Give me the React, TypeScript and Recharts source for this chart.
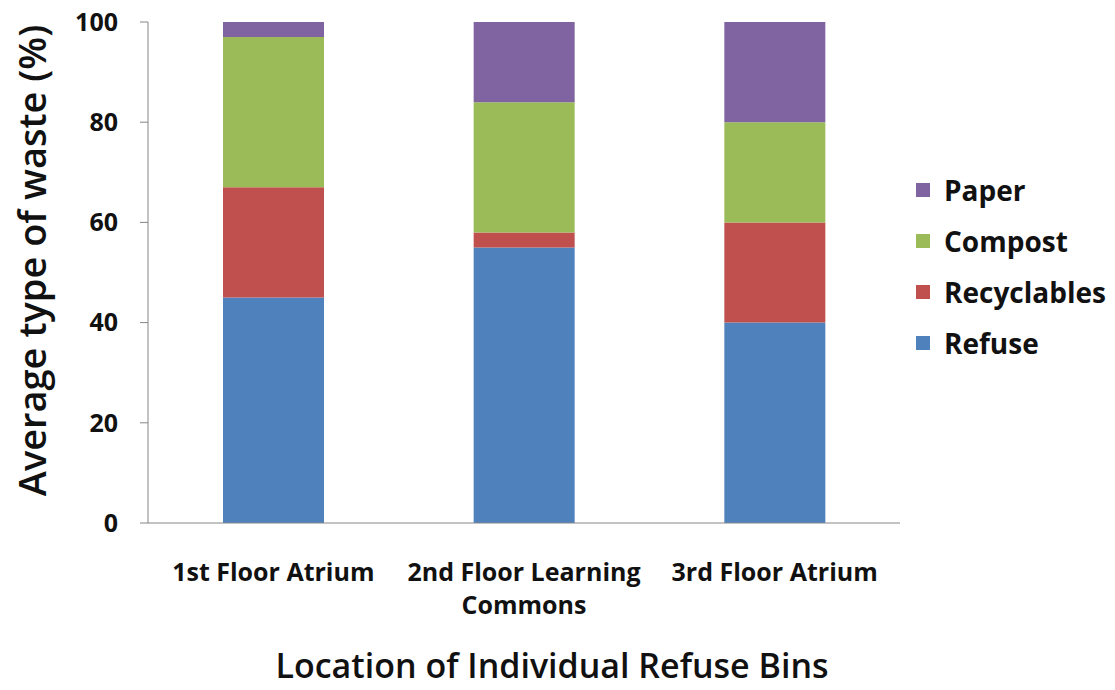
import { BarChart, Bar, XAxis, YAxis, Legend } from "recharts";

const locations = ["1st Floor Atrium", "2nd Floor Learning Commons", "3rd Floor Atrium"];
const refuse = [45, 55, 40];
const recyclables = [22, 3, 20];
const compost = [30, 26, 20];
const paper = [3, 16, 20];
const yTicks = [0, 20, 40, 60, 80, 100];
const boundaryTicks = [0, 1, 2, 3];

const series = [
    { key: "refuse", name: "Refuse", color: "#4f81bd" },
    { key: "recyclables", name: "Recyclables", color: "#c0504d" },
    { key: "compost", name: "Compost", color: "#9bbb59" },
    { key: "paper", name: "Paper", color: "#8064a2" },
];

const chartData = locations.map((loc, i) => ({
    location: loc,
    pos: i + 0.5,
    refuse: refuse[i],
    recyclables: recyclables[i],
    compost: compost[i],
    paper: paper[i],
}));

const FONT = "'Open Sans', sans-serif";

// wrap long category names onto two lines like the original
function CategoryTick(props: any) {
    const { x, y, payload } = props;
    const words = String(payload.value).split(" ");
    const lines = words.length > 3 ? [words.slice(0, 3).join(" "), words.slice(3).join(" ")] : [words.join(" ")];
    return (
        <text x={x} y={y} textAnchor="middle" fontFamily={FONT} fontWeight={700} fontSize={25} fill="#111">
            {lines.map((l, i) => (
                <tspan key={i} x={x} dy={i === 0 ? 40 : 33}>{l}</tspan>
            ))}
        </text>
    );
}

function LegendBox() {
    const items = [...series].reverse();
    return (
        <div style={{ fontFamily: FONT, fontWeight: 700, fontSize: 28, color: "#111" }}>
            {items.map(s => (
                <div key={s.key} style={{ display: "flex", alignItems: "center", height: 51 }}>
                    <span style={{ width: 14, height: 14, background: s.color, marginRight: 14, display: "inline-block" }} />
                    {s.name}
                </div>
            ))}
        </div>
    );
}

export default function App() {
    return (
        <div style={{ position: "absolute", left: 0, top: 0, width: 1115, height: 690, background: "#fff" }}>
            <BarChart
                width={1115}
                height={690}
                data={chartData}
                margin={{ top: 22, right: 215, bottom: 0, left: 0 }}
                barCategoryGap="20%"
            >
                <XAxis
                    xAxisId="bounds"
                    dataKey="pos"
                    type="number"
                    domain={[0, 3]}
                    ticks={boundaryTicks}
                    tick={false}
                    tickSize={10}
                    height={10}
                    stroke="#868686"
                />
                <XAxis
                    xAxisId="cat"
                    dataKey="location"
                    axisLine={false}
                    tickLine={false}
                    height={157}
                    interval={0}
                    tick={<CategoryTick />}
                    label={{
                        value: "Location of Individual Refuse Bins",
                        position: "insideBottom",
                        offset: 12,
                        dx: 28,
                        style: { fontFamily: FONT, fontWeight: 600, fontSize: 34, fill: "#111" },
                    }}
                />
                <YAxis
                    domain={[0, 100]}
                    ticks={yTicks}
                    width={148}
                    tickSize={8}
                    tickMargin={22}
                    stroke="#868686"
                    tick={{ fontFamily: FONT, fontWeight: 700, fontSize: 25, fill: "#111" }}
                    label={{
                        value: "Average type of waste (%)",
                        angle: -90,
                        position: "insideLeft",
                        offset: 33,
                        dy: -12,
                        style: { textAnchor: "middle", fontFamily: FONT, fontWeight: 600, fontSize: 38, fill: "#111" },
                    }}
                />
                <Legend
                    layout="vertical"
                    align="center"
                    verticalAlign="middle"
                    content={<LegendBox />}
                    wrapperStyle={{ left: 916, top: 164, width: 199 }}
                />
                {series.map(s => (
                    <Bar
                        key={s.key}
                        xAxisId="cat"
                        dataKey={s.key}
                        name={s.name}
                        stackId="waste"
                        fill={s.color}
                        barSize={101}
                        isAnimationActive={false}
                    />
                ))}
            </BarChart>
        </div>
    );
}
